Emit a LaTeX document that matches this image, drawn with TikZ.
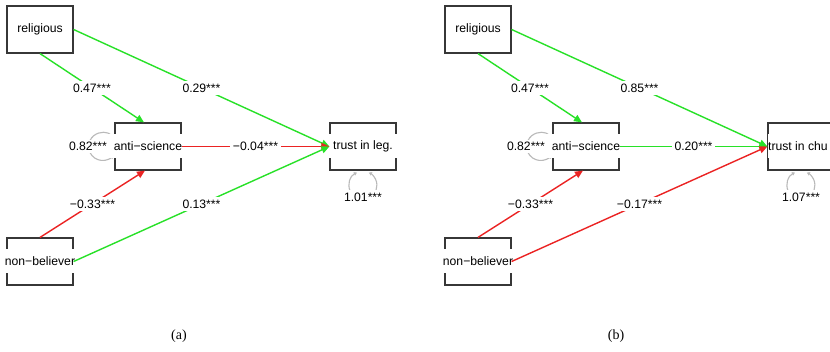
\documentclass[tikz,border=0pt]{standalone}
\usepackage{fontspec}
\setmainfont{Liberation Sans}
\newfontfamily\capfont{Liberation Serif}
\usetikzlibrary{arrows.meta}
\definecolor{pgreen}{RGB}{40,225,40}
\definecolor{pred}{RGB}{235,35,35}
\definecolor{boxc}{RGB}{55,55,55}
\definecolor{loopc}{RGB}{185,185,185}
\tikzset{
  var/.style={draw=boxc, line width=1.2pt, minimum width=66pt, minimum height=47pt, inner sep=0pt},
  vlabel/.style={fill=white, inner xsep=6pt, inner ysep=0pt, minimum height=24pt, font=\fontsize{12.2}{13}\selectfont},
  elabel/.style={fill=white, inner sep=2.5pt, font=\fontsize{12.2}{13}\selectfont},
  tip/.style={-{Triangle[length=8pt,width=7pt]}},
  gedge/.style={draw=pgreen, line width=1.4pt, tip},
  redge/.style={draw=pred, line width=1.4pt, tip},
  loopline/.style={draw=loopc, line width=1.1pt, {Triangle[length=3pt,width=3.5pt]}-{Triangle[length=3pt,width=3.5pt]}},
  captxt/.style={font=\capfont\fontsize{14}{16}\selectfont}
}
\begin{document}
\begin{tikzpicture}[x=1pt,y=-1pt]
\clip (0,0) rectangle (830,352);
\fill[white] (0,0) rectangle (830,352);

% ---------- panel (a)
\node[var] (relA) at (40,29.5) {};
\node[var] (asA)  at (148,146.5) {};
\node[var] (trA)  at (363,146.5) {};
\node[var] (nbA)  at (40,261.5) {};

\draw[loopline] (asA.west) ++(-1,-9) arc[start angle=-40, end angle=-320, radius=14];
\draw[loopline] (trA.south) ++(-6,2) arc[start angle=245, end angle=-65, radius=14];

\node[vlabel] (relAl) at (relA) {religious};
\node[vlabel] (asAl)  at (asA) {anti−science};
\node[vlabel] (trAl)  at (trA) {trust in leg.};
\node[vlabel] (nbAl)  at (nbA) {non−believer};

\draw[gedge] (relA.south) -- node[elabel] {0.47***} ([xshift=-4pt]asA.north);
\draw[gedge] (relA.east) -- node[elabel] {0.29***} (trA.west);
\draw[redge] (asA.east) -- node[elabel] {−0.04***} (trA.west);
\draw[redge] (nbA.north) -- node[elabel] {−0.33***} ([xshift=-3pt]asA.south);
\draw[gedge] (nbA.east) -- node[elabel] {0.13***} (trA.west);

\node[elabel] (lasA) at (88,146.5) {0.82***};
\node[elabel] (ltrA) at (363,197) {1.01***};

\node[captxt] (capA) at (179,336) {(a)};

% ---------- panel (b)
\node[var] (relB) at (478,29.5) {};
\node[var] (asB)  at (586,146.5) {};
\node[var] (trB)  at (801,146.5) {};
\node[var] (nbB)  at (478,261.5) {};

\draw[loopline] (asB.west) ++(-1,-9) arc[start angle=-40, end angle=-320, radius=14];
\draw[loopline] (trB.south) ++(-6,2) arc[start angle=245, end angle=-65, radius=14];

\node[vlabel] (relBl) at (relB) {religious};
\node[vlabel] (asBl)  at (asB) {anti−science};
\node[vlabel, anchor=west, inner xsep=0.5pt] (trBl) at (trB.west) {trust in chu};
\node[vlabel] (nbBl)  at (nbB) {non−believer};

\draw[gedge] (relB.south) -- node[elabel] {0.47***} ([xshift=-4pt]asB.north);
\draw[gedge] (relB.east) -- node[elabel] {0.85***} (trB.west);
\draw[gedge] (asB.east) -- node[elabel] {0.20***} (trB.west);
\draw[redge] (nbB.north) -- node[elabel] {−0.33***} ([xshift=-3pt]asB.south);
\draw[redge] (nbB.east) -- node[elabel] {−0.17***} (trB.west);

\node[elabel] (lasB) at (526,146.5) {0.82***};
\node[elabel] (ltrB) at (801,197) {1.07***};

\node[captxt] (capB) at (616,336) {(b)};
\end{tikzpicture}
\end{document}
